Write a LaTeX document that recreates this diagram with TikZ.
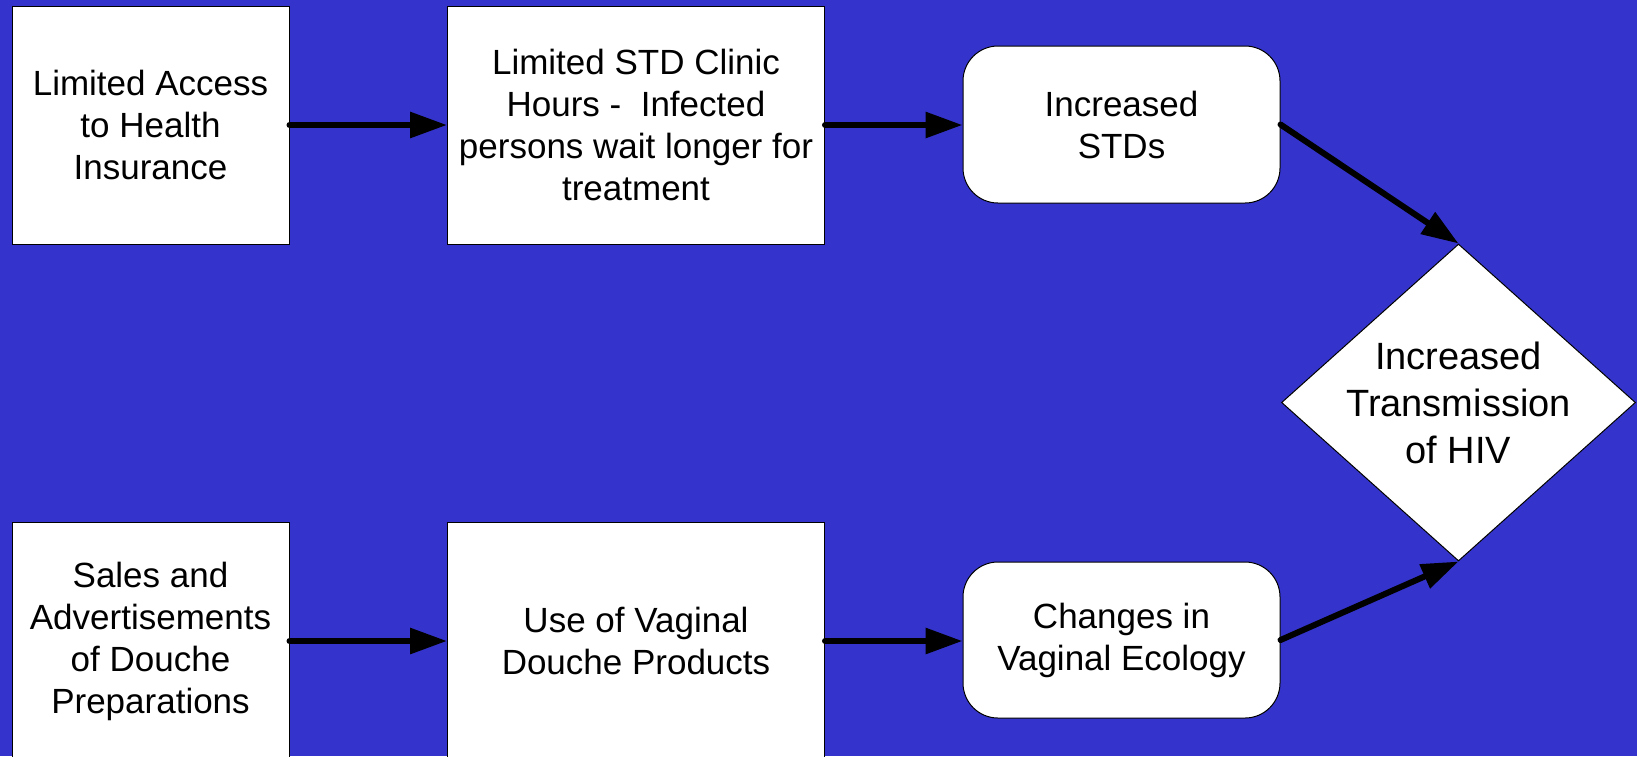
\documentclass[tikz,border=0pt]{standalone}
\usepackage{fontspec}
\setmainfont{Liberation Sans}
\usetikzlibrary{arrows.meta,shapes.geometric}
\definecolor{bgblue}{RGB}{52,52,204}
\tikzset{
  box/.style={draw=black, line width=1pt, fill=white, inner sep=0pt, align=center,
    font=\fontsize{35}{42}\selectfont},
  rbox/.style={box, rounded corners=35pt},
  conn/.style={line width=6pt, line cap=round, -{Triangle[length=37pt,width=25pt]}},
}
\begin{document}
\begin{tikzpicture}[x=1pt,y=-1pt]
\fill[bgblue] (0,0) rectangle (1637,756);
\useasboundingbox (0,0) rectangle (1637,756);
\node[box, minimum width=277pt, minimum height=238pt] (b1) at (150.5,125) {Limited Access\\to Health\\Insurance};
\node[box, minimum width=377pt, minimum height=238pt] (b2) at (636,125) {Limited STD Clinic\\Hours -\ \ Infected\\persons wait longer for\\treatment};
\node[rbox, minimum width=317pt, minimum height=157pt] (r1) at (1121.5,124.5) {Increased\\STDs};
\node[box, minimum width=277pt, minimum height=238pt] (b3) at (150.5,641) {Sales and\\Advertisements\\of Douche\\Preparations};
\node[box, minimum width=377pt, minimum height=238pt] (b4) at (636,641) {Use of Vaginal\\Douche Products};
\node[rbox, minimum width=317pt, minimum height=156pt] (r2) at (1121.5,640) {Changes in\\Vaginal Ecology};
\node[diamond, draw=black, line width=1pt, fill=white, inner sep=0pt, minimum width=354pt, minimum height=317pt] (hiv) at (1458.5,402.5) {};
\node[align=center, inner sep=0pt, font=\fontsize{38}{47}\selectfont] (hivtext) at (hiv.center) {Increased\\Transmission\\of HIV};
\draw[conn] (b1.east) -- (b2.west);
\draw[conn] (b2.east) -- (b2.east -| r1.west);
\draw[conn] (r1.east) -- (hiv.north);
\draw[conn] (b3.east) -- (b4.west);
\draw[conn] (b4.east) -- (b4.east -| r2.west);
\draw[conn] (r2.east) -- (hiv.south);
\end{tikzpicture}
\end{document}
